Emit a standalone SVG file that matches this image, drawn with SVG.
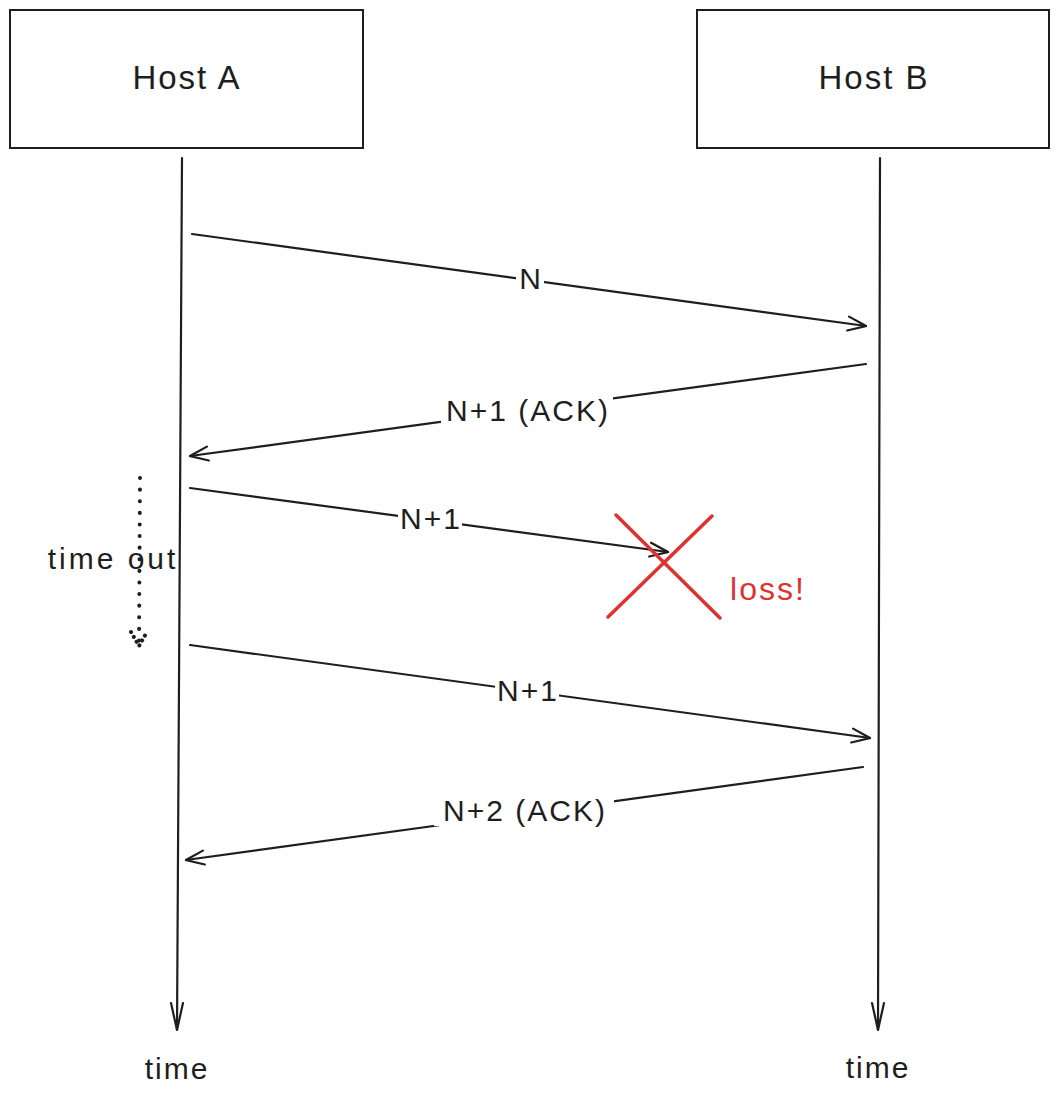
<svg xmlns="http://www.w3.org/2000/svg" width="1060" height="1100" viewBox="0 0 1060 1100">
<style>
text{font-family:"Liberation Sans","DejaVu Sans",sans-serif;fill:#1e1e1e;text-anchor:middle}
.node rect{fill:#fff;stroke:#1e1e1e;stroke-width:2}
.lbl{font-size:30px;letter-spacing:2px}
.bg{fill:#fff;stroke:none}
.ln{stroke:#1e1e1e;stroke-width:2.2;fill:none;stroke-linecap:round}
</style>
<defs>
<marker id="ah" viewBox="0 0 20 20" refX="19" refY="10" markerWidth="20" markerHeight="20" markerUnits="userSpaceOnUse" orient="auto">
<path d="M1,3 L19,10 L1,17" fill="none" stroke="#1e1e1e" stroke-width="2.2" stroke-linecap="round"/>
</marker>
<marker id="ahv" viewBox="0 0 24 32" refX="12" refY="31" markerWidth="24" markerHeight="32" markerUnits="userSpaceOnUse" orient="0">
<path d="M6,4 L12,31 L18,4" fill="none" stroke="#1e1e1e" stroke-width="2.2" stroke-linecap="round"/>
</marker>
<marker id="dah" viewBox="0 0 20 20" refX="10" refY="18" markerWidth="20" markerHeight="20" markerUnits="userSpaceOnUse" orient="0">
<path d="M2,4 L10,18 L18,4" fill="none" stroke="#1e1e1e" stroke-width="4" stroke-linecap="round" stroke-dasharray="0.1 5.5"/>
</marker>
</defs>
<g id="hostA" class="node"><rect x="10" y="10" width="353" height="138"/><text x="187" y="89" font-size="33" letter-spacing="2">Host A</text></g>
<g id="hostB" class="node"><rect x="697" y="10" width="352" height="138"/><text x="874" y="89" font-size="33" letter-spacing="2">Host B</text></g>
<g id="connectors">
<path class="ln" d="M182,158 L177,1030" marker-end="url(#ahv)"/>
<path class="ln" d="M880,158 L878,1030" marker-end="url(#ahv)"/>
<path class="ln" d="M192,234 L866,326" marker-end="url(#ah)"/>
<path class="ln" d="M866,364 L190,456" marker-end="url(#ah)"/>
<path class="ln" d="M190,488 L668,552" marker-end="url(#ah)"/>
<path class="ln" d="M190,645 L870,738" marker-end="url(#ah)"/>
<path class="ln" d="M863,767 L186,860" marker-end="url(#ah)"/>
<path d="M140,478 L139,646" fill="none" stroke="#1e1e1e" stroke-width="4" stroke-linecap="round" stroke-dasharray="0.1 11.5" marker-end="url(#dah)"/>
</g>
<g id="labels">
<rect class="bg" x="516" y="262" width="28" height="32"/>
<text class="lbl" x="531" y="289">N</text>
<rect class="bg" x="441" y="394" width="172" height="32"/>
<text class="lbl" x="528" y="421">N+1 (ACK)</text>
<rect class="bg" x="398" y="502" width="64" height="32"/>
<text class="lbl" x="431" y="529">N+1</text>
<rect class="bg" x="495" y="674" width="64" height="32"/>
<text class="lbl" x="528" y="701">N+1</text>
<rect class="bg" x="434" y="794" width="180" height="32"/>
<text class="lbl" x="525" y="821">N+2 (ACK)</text>
</g>
<g id="timeout"><text x="113" y="569" font-size="30" letter-spacing="3">time out</text></g>
<g id="loss">
<path d="M616,515 L720,618 M712,516 L608,617" stroke="#e03131" stroke-width="3.5" fill="none" stroke-linecap="round"/>
<text x="768" y="600" font-size="32" letter-spacing="2" style="fill:#e03131">loss!</text>
</g>
<g id="timeLabels">
<text x="177" y="1079" font-size="30" letter-spacing="2">time</text>
<text x="878" y="1078" font-size="30" letter-spacing="2">time</text>
</g>
</svg>
